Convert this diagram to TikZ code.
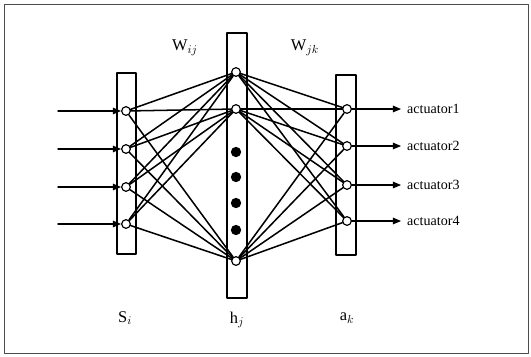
\documentclass[tikz,border=0pt]{standalone}
\usepackage{fontspec}
\setmainfont{Liberation Serif}
\usetikzlibrary{arrows.meta}
\begin{document}
\begin{tikzpicture}[x=0.03cm, y=-0.03cm, line cap=round, line join=round,
    unit/.style={circle, draw, line width=1pt, fill=white, inner sep=0pt, minimum size=0.26cm},
    dot/.style={circle, fill=black, inner sep=0pt, minimum size=0.31cm},
    layer/.style={draw, line width=1.2pt},
    link/.style={line width=1.3pt},
    sig/.style={line width=1.2pt, -{Triangle[length=7pt,width=5.5pt]}},
    lbl/.style={font=\fontsize{12}{14}\selectfont},
    big/.style={font=\fontsize{14}{16}\selectfont}]
    \useasboundingbox (0,0) rectangle (531,356);
    \draw[gray!60!black, line width=0.8pt] (4,4) rectangle (528,353);
    % layers
    \draw[layer] (117,73) rectangle (136,254);
    \draw[layer] (227,33) rectangle (247,298);
    \draw[layer] (336,75) rectangle (356,255);
    % units
    \foreach \i/\y in {1/111, 2/149, 3/187, 4/224} \node[unit] (s\i) at (126,\y) {};
    \foreach \i/\y in {1/72, 2/109, 3/261} \node[unit] (h\i) at (236,\y) {};
    \foreach \y in {152, 177, 203, 230} \node[dot] at (236,\y) {};
    \foreach \i/\y in {1/109, 2/146, 3/185, 4/221} \node[unit] (a\i) at (347,\y) {};
    % weights
    \foreach \i in {1,...,4} \foreach \j in {1,2,3} {
      \draw[link] (s\i) -- (h\j);
      \draw[link] (h\j) -- (a\i);
    }
    % inputs and outputs
    \foreach \i/\y in {1/111, 2/149, 3/187, 4/224} {
      \coordinate (in\i) at (58,\y);
      \draw[sig] (in\i) -- (s\i);
    }
    \foreach \i/\y in {1/109, 2/146, 3/185, 4/221} {
      \node[lbl, anchor=west, inner sep=0pt] (act\i) at (407,\y) {actuator\i};
      \draw[sig] (a\i) -- ([xshift=-5pt]act\i.west);
    }
    % labels
    \node[big] (wij) at (185,48) {W$_{ij}$};
    \node[big] (wjk) at (305,48) {W$_{jk}$};
    \node[big] (si) at (125,318) {S$_i$};
    \node[big] (hj) at (237,320) {h$_j$};
    \node[big] (ak) at (347,318) {a$_k$};
\end{tikzpicture}
\end{document}
